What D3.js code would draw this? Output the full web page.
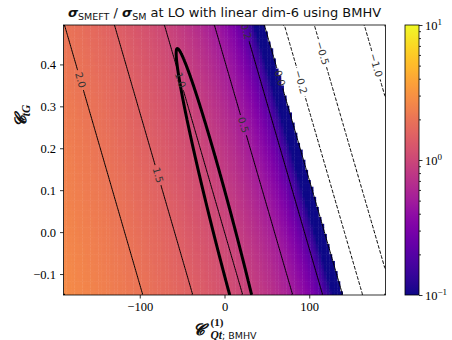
<!DOCTYPE html>
<html>
<head>
<meta charset="utf-8">
<script src="https://cdn.jsdelivr.net/npm/d3@7"></script>
<style>
  body { margin: 0; background: #fff; }
  svg { display: block; }
</style>
</head>
<body>
<svg id="chart" width="452" height="340"></svg>
<script>
// scan ranges (C_Qt^(1) BMHV on x, C_tG on y)
const cQtRange = [-190, 190];
const cTGRange = [-0.15, 0.494];
// linear dim-6 ratio = sm + kQt * C_Qt + kTG * C_tG
const smRatio = 1.0;
const kQt = -0.00848;
const kTG = -1.217;
// heatmap grid size
const nCellsX = 120;
const nCellsY = 80;
// contour levels and the C_tG value where each inline label sits
const levels = [-1.0, -0.5, -0.2, 0.0, 0.2, 0.5, 1.0, 1.5, 2.0];
const labelAtTG = [0.398, 0.427, 0.358, 0.367, 0.479, 0.2555, 0.3626, 0.136, 0.3626];
// thick closed loop: centre and half axes, in data units
const loopCentre = [5, -0.039];
const loopMajor = [60.8, -0.477];
const loopMinor = [12.5, 0.0065];
// colour bar
const cbarDomain = [0.1, 10];
const cbarMajor = [0.1, 1, 10];
const cbarExp = ["\u22121", "0", "1"];
const cbarMinor = [0.2, 0.3, 0.4, 0.5, 0.6, 0.7, 0.8, 0.9, 2, 3, 4, 5, 6, 7, 8, 9];
// axis ticks
const xTicks = [-100, 0, 100];
const yTicks = [-0.1, 0.0, 0.1, 0.2, 0.3, 0.4];

const m = { l: 63.5, t: 25, r: 385.5, b: 295 };
const svg = d3.select("#chart");
const serif = "'Liberation Serif', 'DejaVu Serif', serif";
const sans = "'DejaVu Sans', sans-serif";

const x = d3.scaleLinear().domain(cQtRange).range([m.l, m.r]);
const y = d3.scaleLinear().domain(cTGRange).range([m.b, m.t]);
const norm = d3.scaleLog().domain(cbarDomain).range([0, 1]).clamp(true);

const ratio = (a, b) => smRatio + kQt * a + kTG * b;

// loop "distance": 1 on the loop
const det = loopMajor[0] * loopMinor[1] - loopMinor[0] * loopMajor[1];
function loopDist(a, b) {
  const dx = a - loopCentre[0], dy = b - loopCentre[1];
  const u = (dx * loopMinor[1] - loopMinor[0] * dy) / det;
  const v = (loopMajor[0] * dy - loopMajor[1] * dx) / det;
  return u * u + v * v;
}

const defs = svg.append("defs");
defs.append("clipPath").attr("id", "plotClip")
  .append("rect").attr("x", m.l).attr("y", m.t)
  .attr("width", m.r - m.l).attr("height", m.b - m.t);

// heatmap cells
const dxc = (cQtRange[1] - cQtRange[0]) / nCellsX;
const dyc = (cTGRange[1] - cTGRange[0]) / nCellsY;
const cells = [];
for (let j = 0; j < nCellsY; j++) {
  for (let i = 0; i < nCellsX; i++) {
    const a0 = cQtRange[0] + i * dxc, b0 = cTGRange[0] + j * dyc;
    const v = ratio(a0 + dxc / 2, b0 + dyc / 2);
    if (v > 0) cells.push({ a0, b0, v });
  }
}
svg.append("g").attr("clip-path", "url(#plotClip)")
  .selectAll("rect").data(cells).join("rect")
  .attr("x", d => x(d.a0))
  .attr("y", d => y(d.b0 + dyc) - 0.3)
  .attr("width", d => x(d.a0 + dxc) - x(d.a0) + 0.4)
  .attr("height", d => y(d.b0) - y(d.b0 + dyc) + 0.6)
  .attr("fill", d => d3.interpolatePlasma(norm(d.v)));

// contour lines from d3.contours, dropping the parts on the grid border
function contourLines(fn, n, mm, thresholds) {
  const vals = new Float64Array(n * mm);
  for (let j = 0; j < mm; j++) {
    const b = cTGRange[1] - (j + 0.5) * (cTGRange[1] - cTGRange[0]) / mm;
    for (let i = 0; i < n; i++) {
      const a = cQtRange[0] + (i + 0.5) * (cQtRange[1] - cQtRange[0]) / n;
      vals[j * n + i] = fn(a, b);
    }
  }
  const toData = p => [cQtRange[0] + p[0] * (cQtRange[1] - cQtRange[0]) / n,
                       cTGRange[1] - p[1] * (cTGRange[1] - cTGRange[0]) / mm];
  const onEdge = (p, q) => (p[0] === q[0] && (p[0] === 0 || p[0] === n)) ||
                           (p[1] === q[1] && (p[1] === 0 || p[1] === mm));
  return d3.contours().size([n, mm]).thresholds(thresholds)(vals).map(c => {
    const lines = [];
    c.coordinates.forEach(poly => poly.forEach(ring => {
      let pts = ring.slice(0, -1);
      const k0 = pts.findIndex((p, k) => onEdge(p, pts[(k + 1) % pts.length]));
      if (k0 >= 0) pts = pts.slice(k0 + 1).concat(pts.slice(0, k0 + 1));
      pts.push(pts[0]);
      let cur = [];
      for (let k = 0; k < pts.length - 1; k++) {
        if (onEdge(pts[k], pts[k + 1])) {
          if (cur.length > 1) lines.push(cur);
          cur = [];
        } else {
          if (!cur.length) cur.push(pts[k]);
          cur.push(pts[k + 1]);
        }
      }
      if (cur.length > 1) lines.push(cur);
    }));
    return { value: c.value, lines: lines.map(l => l.map(toData)) };
  });
}

const line = d3.line().x(d => x(d[0])).y(d => y(d[1]));
const ratioContours = contourLines(ratio, 200, 160, levels);

// label positions along each contour
const labels = [];
ratioContours.forEach(c => {
  const li = levels.indexOf(c.value);
  const ty = labelAtTG[li];
  c.lines.forEach(l => {
    for (let k = 0; k < l.length - 1; k++) {
      const p = l[k], q = l[k + 1];
      if ((p[1] - ty) * (q[1] - ty) <= 0 && p[1] !== q[1]) {
        const f = (ty - p[1]) / (q[1] - p[1]);
        const px = x(p[0] + f * (q[0] - p[0])), py = y(ty);
        let ang = Math.atan2(y(q[1]) - y(p[1]), x(q[0]) - x(p[0])) * 180 / Math.PI;
        if (ang > 90) ang -= 180;
        if (ang < -90) ang += 180;
        labels.push({ text: c.value.toFixed(1).replace("-", "\u2212"), px, py, ang });
        return;
      }
    }
  });
});

// label group (measure text for the line gaps)
const labelG = svg.append("g").attr("clip-path", "url(#plotClip)");
const lbl = labelG.selectAll("text").data(labels).join("text")
  .attr("transform", d => `translate(${d.px},${d.py}) rotate(${d.ang})`)
  .attr("text-anchor", "middle").attr("dy", "0.35em")
  .attr("font-family", sans).attr("font-size", 10).attr("fill", "#333")
  .text(d => d.text);
lbl.each(function (d) { d.w = this.getComputedTextLength(); });

const mask = defs.append("mask").attr("id", "lblMask")
  .attr("maskUnits", "userSpaceOnUse")
  .attr("x", 0).attr("y", 0).attr("width", 452).attr("height", 340);
mask.append("rect").attr("width", 452).attr("height", 340).attr("fill", "#fff");
mask.selectAll("rect.gap").data(labels).join("rect").attr("class", "gap")
  .attr("x", d => -d.w / 2 - 2.5).attr("y", -5).attr("width", d => d.w + 5).attr("height", 10)
  .attr("transform", d => `translate(${d.px},${d.py}) rotate(${d.ang})`)
  .attr("fill", "#000");

const contourG = svg.insert("g", () => labelG.node())
  .attr("clip-path", "url(#plotClip)");
contourG.append("g").attr("mask", "url(#lblMask)")
  .selectAll("path").data(ratioContours.flatMap(c => c.lines.map(l => ({ value: c.value, l }))))
  .join("path")
  .attr("d", d => line(d.l))
  .attr("fill", "none").attr("stroke", "#000").attr("stroke-width", 1)
  .attr("stroke-dasharray", d => d.value < 0 ? "3.7,1.6" : null);

// thick loop
const loopContours = contourLines(loopDist, 400, 300, [1]);
contourG.selectAll("path.loop").data(loopContours[0].lines).join("path")
  .attr("class", "loop")
  .attr("d", line)
  .attr("fill", "none").attr("stroke", "#000").attr("stroke-width", 3)
  .attr("stroke-linejoin", "round");

// axes
const xAxis = svg.append("g").attr("transform", `translate(0,${m.b})`)
  .call(d3.axisBottom(x).tickValues(xTicks).tickSize(3.5).tickPadding(4)
    .tickFormat(d => d3.format(".0f")(d).replace("-", "\u2212")));
const yAxis = svg.append("g").attr("transform", `translate(${m.l},0)`)
  .call(d3.axisLeft(y).tickValues(yTicks).tickSize(3.5).tickPadding(4)
    .tickFormat(d => d3.format(".1f")(d).replace("-", "\u2212")));
[xAxis, yAxis].forEach(g => {
  g.select(".domain").remove();
  g.selectAll(".tick line").attr("stroke", "#000").attr("stroke-width", 0.8);
  g.selectAll(".tick text").attr("font-family", serif).attr("font-size", 12.5).attr("fill", "#000");
});
svg.append("rect").attr("x", m.l).attr("y", m.t)
  .attr("width", m.r - m.l).attr("height", m.b - m.t)
  .attr("fill", "none").attr("stroke", "#000").attr("stroke-width", 0.8);

// colour bar
const cb = { l: 405, r: 419 };
const cy = d3.scaleLog().domain(cbarDomain).range([m.b, m.t]);
const grad = defs.append("linearGradient").attr("id", "cbGrad")
  .attr("x1", 0).attr("y1", 1).attr("x2", 0).attr("y2", 0);
grad.selectAll("stop").data(d3.range(0, 1.0001, 0.02)).join("stop")
  .attr("offset", d => d).attr("stop-color", d => d3.interpolatePlasma(d));
svg.append("rect").attr("x", cb.l).attr("y", m.t)
  .attr("width", cb.r - cb.l).attr("height", m.b - m.t)
  .attr("fill", "url(#cbGrad)").attr("stroke", "#000").attr("stroke-width", 0.8);
const cbAxis = svg.append("g").attr("transform", `translate(${cb.r},0)`);
cbAxis.call(d3.axisRight(cy).tickValues(cbarMinor).tickSize(2).tickFormat(""));
cbAxis.call(g => g.select(".domain").remove());
const cbMaj = svg.append("g").attr("transform", `translate(${cb.r},0)`);
cbMaj.call(d3.axisRight(cy).tickValues(cbarMajor).tickSize(3.5).tickFormat(""));
cbMaj.select(".domain").remove();
[cbAxis, cbMaj].forEach(g => g.selectAll(".tick line").attr("stroke", "#000").attr("stroke-width", 0.8));
const cbText = svg.append("g").selectAll("text").data(cbarMajor).join("text")
  .attr("x", cb.r + 6).attr("y", d => cy(d) + 4.5)
  .attr("font-family", serif).attr("font-size", 12.5).attr("fill", "#000");
cbText.append("tspan").text("10");
cbText.append("tspan").attr("dy", -5).attr("font-size", 9).text((d, i) => cbarExp[i]);

// title
const title = svg.append("text").attr("x", 224.5).attr("y", 17)
  .attr("text-anchor", "middle").attr("font-family", sans).attr("font-size", 13).attr("fill", "#111");
title.append("tspan").attr("font-weight", "bold").attr("font-style", "italic").text("\u03c3");
title.append("tspan").attr("font-size", 9.5).attr("dy", 3).text("SMEFT");
title.append("tspan").attr("dy", -3).text(" / ");
title.append("tspan").attr("font-weight", "bold").attr("font-style", "italic").text("\u03c3");
title.append("tspan").attr("font-size", 9.5).attr("dy", 3).text("SM");
title.append("tspan").attr("dy", -3).text(" at LO with linear dim-6 using BMHV");

// y label
const ylab = svg.append("text").attr("transform", "translate(26,116) rotate(-90)")
  .attr("text-anchor", "middle").attr("font-family", serif).attr("fill", "#111");
ylab.append("tspan").attr("font-size", 16).attr("font-weight", "bold").attr("font-style", "italic").text("\ud835\udcd2");
ylab.append("tspan").attr("font-size", 11.5).attr("font-weight", "bold").attr("font-style", "italic").attr("dy", 4).text("tG");

// x label
const xlC = svg.append("text").attr("x", 193).attr("y", 335)
  .attr("font-family", serif).attr("font-size", 16).attr("font-weight", "bold").attr("font-style", "italic")
  .attr("fill", "#111").text("\ud835\udcd2");
const cw = xlC.node().getBBox().width;
svg.append("text").attr("x", 193 + cw + 0.5).attr("y", 326)
  .attr("font-family", serif).attr("font-size", 11).attr("font-weight", "bold").attr("fill", "#111").text("(1)");
const sub = svg.append("text").attr("x", 193 + cw + 0.5).attr("y", 338.5)
  .attr("font-family", serif).attr("fill", "#111");
sub.append("tspan").attr("font-size", 11.5).attr("font-weight", "bold").attr("font-style", "italic").text("Qt");
sub.append("tspan").attr("font-size", 9.5).attr("font-family", sans).text("; BMHV");
</script>
</body>
</html>
